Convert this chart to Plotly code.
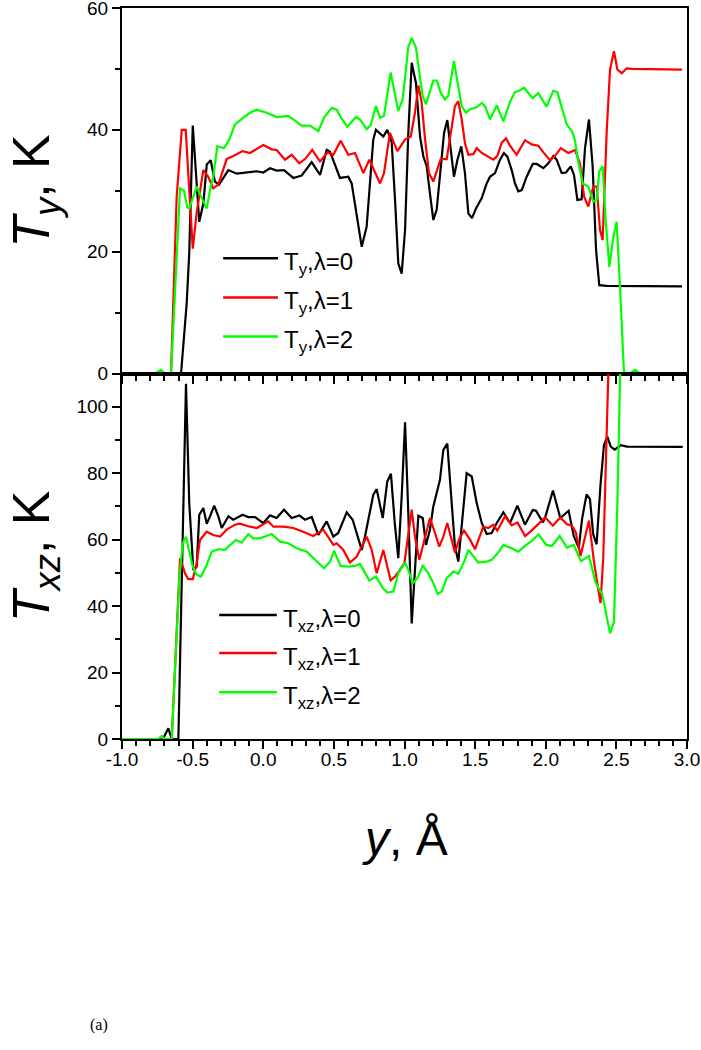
"""Temperature profiles T_y and T_xz across y for three lambda values."""

import plotly.graph_objects as go
from plotly.subplots import make_subplots

# ---- top panel: T_y, K ----
ty0_x = [-1.0, -0.582, -0.542, -0.524, -0.499, -0.453, -0.424, -0.400, -0.372, -0.342, -0.313,
         -0.247, -0.188, -0.117, -0.046, 0.000, 0.048, 0.095, 0.147, 0.213, 0.272, 0.343, 0.402,
         0.449, 0.473, 0.543, 0.602, 0.626, 0.697, 0.732, 0.779, 0.798, 0.850, 0.878, 0.909,
         0.933, 0.956, 0.980, 1.004, 1.027, 1.051, 1.081, 1.110, 1.133, 1.157, 1.180, 1.204,
         1.228, 1.251, 1.280, 1.303, 1.327, 1.350, 1.374, 1.402, 1.428, 1.452, 1.478, 1.506,
         1.547, 1.582, 1.605, 1.641, 1.676, 1.704, 1.728, 1.759, 1.782, 1.806, 1.830, 1.865,
         1.908, 1.936, 1.983, 2.018, 2.054, 2.077, 2.113, 2.143, 2.177, 2.200, 2.224, 2.254,
         2.278, 2.306, 2.332, 2.356, 2.379, 2.431, 2.965]
ty0_y = [0, 0, 11.5, 19.8, 40.7, 24.9, 27.9, 34.3, 35.0, 31.5, 31.0,
         33.4, 32.8, 33.0, 33.2, 33.0, 33.7, 33.3, 33.4, 32.1, 32.5, 34.7, 32.6,
         36.7, 36.4, 32.1, 32.3, 31.2, 20.8, 24.1, 38.4, 40.0, 38.9, 40.0, 38.0,
         28.5, 18.1, 16.4, 23.6, 39.5, 51.0, 47.7, 38.9, 35.7, 34.0, 29.6, 25.2,
         26.9, 32.3, 39.5, 41.6, 36.7, 32.3, 35.0, 37.3, 32.9, 26.3, 25.5, 27.1,
         28.8, 31.2, 32.3, 32.9, 35.1, 36.2, 35.6, 33.4, 31.2, 29.9, 30.1, 32.3,
         34.4, 34.4, 33.7, 34.5, 35.7, 35.1, 32.9, 33.0, 34.0, 32.6, 28.5, 28.6,
         37.0, 41.7, 34.0, 20.3, 14.5, 14.4, 14.3]

ty1_x = [-1.0, -0.653, -0.613, -0.577, -0.549, -0.526, -0.499, -0.471, -0.424, -0.389, -0.354,
         -0.318, -0.259, -0.212, -0.146, -0.094, 0.000, 0.060, 0.095, 0.154, 0.201, 0.255,
         0.296, 0.347, 0.402, 0.456, 0.496, 0.548, 0.602, 0.650, 0.709, 0.751, 0.827, 0.855,
         0.897, 0.949, 1.004, 1.044, 1.074, 1.098, 1.121, 1.145, 1.173, 1.204, 1.228, 1.256,
         1.299, 1.327, 1.357, 1.381, 1.405, 1.428, 1.452, 1.487, 1.511, 1.547, 1.586, 1.629,
         1.657, 1.688, 1.719, 1.747, 1.794, 1.853, 1.900, 1.947, 1.983, 2.030, 2.065, 2.106,
         2.160, 2.207, 2.242, 2.271, 2.301, 2.337, 2.361, 2.384, 2.403, 2.431, 2.455, 2.483,
         2.507, 2.538, 2.573, 2.611, 2.965]
ty1_y = [0, 0, 29.0, 40.0, 40.0, 31.0, 20.5, 26.5, 33.4, 32.3, 30.4,
         31.0, 35.2, 35.7, 36.5, 36.2, 37.5, 36.8, 36.7, 35.1, 35.9, 34.5,
         35.2, 36.7, 34.8, 36.3, 35.9, 38.2, 35.9, 36.2, 32.9, 35.1, 31.2, 32.9,
         39.5, 36.5, 38.4, 38.9, 42.8, 47.3, 44.6, 38.6, 32.9, 31.5, 33.4, 35.2,
         35.2, 39.2, 43.9, 44.7, 41.7, 37.8, 35.9, 36.0, 37.0, 36.2, 35.7, 35.1,
         35.7, 37.9, 38.6, 37.4, 35.9, 38.3, 37.6, 37.4, 36.3, 35.0, 35.7, 37.0,
         36.2, 36.7, 34.5, 29.1, 27.4, 30.7, 30.7, 23.6, 21.9, 39.5, 49.9, 52.9,
         49.9, 49.3, 50.1, 50.0, 49.9]

ty2_x = [-1.0, -0.766, -0.724, -0.696, -0.653, -0.589, -0.561, -0.538, -0.524, -0.471, -0.436,
         -0.400, -0.377, -0.354, -0.325, -0.278, -0.240, -0.200, -0.141, -0.094, -0.046, 0.024,
         0.095, 0.177, 0.213, 0.272, 0.331, 0.390, 0.430, 0.485, 0.520, 0.548, 0.595, 0.657,
         0.685, 0.732, 0.761, 0.798, 0.827, 0.855, 0.902, 0.956, 0.987, 1.027, 1.051, 1.081,
         1.105, 1.129, 1.152, 1.180, 1.204, 1.228, 1.256, 1.287, 1.310, 1.350, 1.374, 1.405,
         1.435, 1.464, 1.511, 1.547, 1.570, 1.605, 1.653, 1.700, 1.747, 1.782, 1.818, 1.846,
         1.907, 1.947, 2.006, 2.053, 2.082, 2.113, 2.148, 2.184, 2.195, 2.207, 2.230, 2.262,
         2.301, 2.337, 2.361, 2.379, 2.403, 2.424, 2.450, 2.478, 2.502, 2.527, 2.554, 2.596,
         2.632, 2.667, 2.965]
ty2_y = [0, 0, 0.6, 0, 0, 30.4, 30.0, 27.3, 27.1, 30.7, 28.8,
         27.1, 30.1, 32.3, 37.3, 37.0, 38.4, 40.9, 42.0, 42.8, 43.3, 42.8,
         42.1, 42.3, 41.7, 40.7, 40.7, 39.8, 42.0, 43.6, 43.3, 42.1, 40.5, 42.1,
         41.7, 40.1, 40.8, 43.9, 42.0, 42.3, 49.4, 43.1, 45.0, 53.6, 55.1, 53.5,
         49.4, 45.5, 44.2, 46.1, 48.1, 48.1, 46.1, 45.0, 45.6, 51.3, 48.2, 43.9,
         42.8, 43.4, 43.7, 44.4, 43.9, 41.7, 44.0, 41.4, 44.6, 46.2, 46.5, 46.9,
         45.2, 46.0, 43.8, 46.4, 46.2, 43.9, 40.9, 39.8, 39.2, 38.2, 34.8, 31.2,
         30.7, 28.2, 28.5, 33.2, 34.0, 25.3, 17.5, 22.3, 24.9, 13.5, 0, 0,
         0.6, 0, 0]

# ---- bottom panel: T_xz, K ----
txz0_x = [-1.0, -0.710, -0.672, -0.648, -0.601, -0.566, -0.547, -0.524, -0.495, -0.471, -0.453,
          -0.424, -0.400, -0.377, -0.347, -0.318, -0.294, -0.247, -0.212, -0.146, -0.106, -0.058,
          0.000, 0.048, 0.095, 0.147, 0.201, 0.255, 0.296, 0.343, 0.390, 0.449, 0.496, 0.531,
          0.591, 0.633, 0.697, 0.720, 0.779, 0.803, 0.846, 0.878, 0.904, 0.931, 0.956, 0.980,
          1.004, 1.027, 1.051, 1.074, 1.098, 1.129, 1.152, 1.180, 1.204, 1.251, 1.275, 1.303,
          1.334, 1.357, 1.381, 1.405, 1.440, 1.476, 1.511, 1.547, 1.582, 1.617, 1.653, 1.700,
          1.747, 1.799, 1.853, 1.908, 1.931, 1.980, 1.996, 2.051, 2.103, 2.162, 2.198, 2.234,
          2.257, 2.289, 2.313, 2.336, 2.360, 2.388, 2.412, 2.436, 2.460, 2.488, 2.531, 2.575,
          2.970]
txz0_y = [0, 0, 3.2, 0, 0, 71.0, 106.9, 71.0, 50.9, 51.9, 67.5,
          69.5, 64.8, 67.0, 70.2, 67.0, 63.5, 67.0, 66.0, 67.5, 66.8, 66.8,
          65.0, 67.3, 66.5, 69.0, 66.5, 67.3, 66.0, 66.8, 61.4, 65.5, 60.9, 62.0,
          68.2, 66.0, 56.9, 60.9, 73.5, 75.2, 66.5, 77.5, 79.8, 65.0, 54.4, 73.0,
          95.3, 68.0, 34.8, 50.9, 67.2, 66.5, 58.4, 63.0, 70.0, 78.0, 87.0, 88.9,
          71.0, 57.9, 53.4, 63.9, 80.0, 79.0, 71.0, 65.0, 61.7, 62.0, 65.0, 68.2,
          65.0, 70.2, 64.5, 68.9, 68.7, 65.2, 66.7, 74.8, 66.5, 68.7, 61.1, 57.5,
          66.2, 73.6, 72.2, 61.6, 58.6, 76.8, 88.4, 91.0, 88.0, 87.1, 88.4, 88.0,
          87.9]

txz1_x = [-1.0, -0.648, -0.589, -0.554, -0.531, -0.499, -0.471, -0.448, -0.400, -0.354, -0.306,
          -0.259, -0.200, -0.165, -0.094, -0.046, 0.036, 0.071, 0.142, 0.213, 0.283, 0.354,
          0.425, 0.496, 0.520, 0.567, 0.614, 0.662, 0.732, 0.768, 0.803, 0.850, 0.902, 0.933,
          0.968, 0.999, 1.051, 1.074, 1.105, 1.145, 1.180, 1.216, 1.246, 1.275, 1.303, 1.334,
          1.357, 1.388, 1.421, 1.464, 1.499, 1.558, 1.594, 1.629, 1.657, 1.711, 1.759, 1.799,
          1.854, 1.901, 1.996, 2.051, 2.103, 2.150, 2.186, 2.214, 2.246, 2.306, 2.341, 2.370,
          2.388, 2.407, 2.426, 2.443, 2.469]
txz1_y = [0, 0, 54.4, 49.9, 48.1, 48.1, 52.9, 59.9, 62.4, 61.4, 60.9,
          63.0, 64.5, 64.8, 63.9, 63.5, 65.5, 63.9, 63.9, 63.5, 62.4, 61.1,
          63.0, 58.4, 58.9, 56.9, 53.1, 54.9, 60.9, 56.9, 49.9, 56.9, 47.7, 48.9,
          50.9, 52.9, 69.0, 60.9, 53.9, 60.2, 66.5, 62.0, 57.9, 60.9, 65.0, 59.9,
          56.1, 60.2, 62.7, 60.0, 57.1, 63.9, 63.5, 64.5, 62.7, 67.0, 64.3, 65.2,
          61.1, 62.8, 66.7, 64.2, 66.7, 64.6, 64.2, 62.0, 55.1, 65.7, 53.5, 45.5,
          40.9, 54.5, 80.8, 110.3, 150.0]

txz2_x = [-1.0, -0.745, -0.719, -0.696, -0.648, -0.594, -0.570, -0.547, -0.524, -0.499, -0.471,
          -0.441, -0.405, -0.365, -0.318, -0.271, -0.240, -0.193, -0.153, -0.106, -0.070, -0.023,
          0.060, 0.119, 0.177, 0.237, 0.308, 0.366, 0.430, 0.473, 0.501, 0.548, 0.602, 0.650,
          0.685, 0.708, 0.751, 0.798, 0.846, 0.878, 0.921, 0.956, 1.004, 1.027, 1.058, 1.091,
          1.129, 1.168, 1.204, 1.235, 1.263, 1.299, 1.346, 1.381, 1.428, 1.452, 1.487, 1.523,
          1.582, 1.617, 1.664, 1.700, 1.747, 1.806, 1.853, 1.901, 1.949, 2.003, 2.044, 2.099,
          2.150, 2.198, 2.250, 2.306, 2.353, 2.400, 2.455, 2.483, 2.507, 2.531, 2.547]
txz2_y = [0, 0, 0.9, 0, 0, 48.4, 59.0, 60.9, 56.4, 51.9, 49.4,
          48.9, 51.9, 56.4, 57.1, 56.9, 58.2, 59.9, 59.1, 61.7, 60.4, 60.4,
          61.7, 59.4, 58.9, 57.4, 56.4, 53.9, 51.4, 53.4, 56.6, 52.1, 51.9, 52.1,
          52.7, 50.9, 47.7, 48.9, 45.4, 44.1, 44.4, 49.9, 53.1, 50.9, 46.9, 48.4,
          52.1, 49.9, 46.9, 43.7, 44.4, 48.4, 50.4, 49.7, 53.9, 56.9, 54.9, 53.1,
          53.4, 53.9, 56.1, 58.4, 57.6, 56.4, 58.1, 59.6, 61.6, 58.4, 58.1, 61.1,
          57.6, 58.4, 53.5, 55.1, 47.0, 43.6, 31.8, 35.3, 70.8, 109.0, 150.0]

x_ticks = [-1.0, -0.5, 0.0, 0.5, 1.0, 1.5, 2.0, 2.5, 3.0]
colors = ["#000000", "#FF0000", "#00FF00"]
lambdas = ["0", "1", "2"]

FONT = "Arial, Liberation Sans, sans-serif"

fig = make_subplots(rows=2, cols=1, shared_xaxes=True, vertical_spacing=0)

top = [(ty0_x, ty0_y), (ty1_x, ty1_y), (ty2_x, ty2_y)]
bottom = [(txz0_x, txz0_y), (txz1_x, txz1_y), (txz2_x, txz2_y)]

for (xs, ys), c, lam in zip(top, colors, lambdas):
    fig.add_trace(go.Scatter(x=xs, y=ys, mode="lines", line=dict(color=c, width=2.2),
                             name=f"T_y, λ={lam}", showlegend=False), row=1, col=1)
for (xs, ys), c, lam in zip(bottom, colors, lambdas):
    fig.add_trace(go.Scatter(x=xs, y=ys, mode="lines", line=dict(color=c, width=2.2),
                             name=f"T_xz, λ={lam}", showlegend=False), row=2, col=1)

# hand-made legends (longer line swatches than plotly's own legend)
legend_rows = [0.315, 0.208, 0.101]
legend_rows_b = [0.339, 0.235, 0.128]
for c, lam, yt, yb in zip(colors, lambdas, legend_rows, legend_rows_b):
    fig.add_shape(type="line", xref="x domain", yref="y domain", x0=0.179, x1=0.276,
                  y0=yt, y1=yt, line=dict(color=c, width=2.5))
    fig.add_annotation(xref="x domain", yref="y domain", x=0.284, y=yt, xanchor="left",
                       yanchor="middle", yshift=-5, showarrow=False,
                       text=f"T<sub>y</sub>,λ={lam}", font=dict(family=FONT, size=24, color="black"))
    fig.add_shape(type="line", xref="x2 domain", yref="y2 domain", x0=0.172, x1=0.274,
                  y0=yb, y1=yb, line=dict(color=c, width=2.5))
    fig.add_annotation(xref="x2 domain", yref="y2 domain", x=0.281, y=yb, xanchor="left",
                       yanchor="middle", yshift=-5, showarrow=False,
                       text=f"T<sub>xz</sub>,λ={lam}", font=dict(family=FONT, size=24, color="black"))

axis_common = dict(showline=True, linecolor="black", linewidth=2, mirror=True,
                   ticks="outside", ticklen=8, tickwidth=1.5, tickcolor="black",
                   showgrid=False, zeroline=False, ticklabeloverflow="allow", automargin=False,
                   tickfont=dict(family=FONT, size=19, color="black"))

fig.update_xaxes(range=[-1, 3], tickvals=x_ticks, ticktext=[f"{v:.1f}" for v in x_ticks],
                 minor=dict(ticks="outside", ticklen=5, tickwidth=1.5, tickcolor="black", dtick=0.1,
                            tick0=-1),
                 **axis_common)
fig.update_xaxes(showticklabels=False, row=1, col=1)
fig.update_xaxes(ticklabelstandoff=-6, row=2, col=1)

fig.update_yaxes(range=[0, 60], dtick=20, tick0=0,
                 minor=dict(ticks="outside", ticklen=5, tickwidth=1.5, tickcolor="black", dtick=10),
                 row=1, col=1, **axis_common)
fig.update_yaxes(range=[0, 110], dtick=20, tick0=0,
                 minor=dict(ticks="outside", ticklen=5, tickwidth=1.5, tickcolor="black", dtick=10),
                 row=2, col=1, **axis_common)

# axis titles
fig.add_annotation(xref="paper", yref="y domain", x=-0.2159, y=0.5, textangle=-90,
                   xanchor="left", yanchor="middle", showarrow=False,
                   text="<i>T</i><sub><i>y</i></sub>, K",
                   font=dict(family=FONT, size=52, color="black"))
fig.add_annotation(xref="paper", yref="y2 domain", x=-0.2159, y=0.5, textangle=-90,
                   xanchor="left", yanchor="middle", showarrow=False,
                   text="<i>T</i><sub><i>xz</i></sub>, K",
                   font=dict(family=FONT, size=52, color="black"))
fig.add_annotation(xref="paper", yref="paper", x=0.5, y=-0.097, xanchor="center",
                   yanchor="top", showarrow=False, text="<i>y</i>, Å",
                   font=dict(family=FONT, size=48, color="black"))
fig.add_annotation(xref="paper", yref="paper", x=-0.04, y=-0.391, xanchor="center",
                   yanchor="middle", showarrow=False, text="(a)",
                   font=dict(family="Times New Roman, Liberation Serif, serif", size=16,
                             color="black"))

fig.update_layout(
    width=701, height=1050,
    margin=dict(l=122, r=14, t=8, b=311),
    plot_bgcolor="white", paper_bgcolor="white",
    showlegend=False,
)

# drop the page's default body margin so the 701x1050 figure fills the window exactly
fig.write_html("out.html", config={"displayModeBar": False},
               post_script="document.body.style.margin = '0';")
